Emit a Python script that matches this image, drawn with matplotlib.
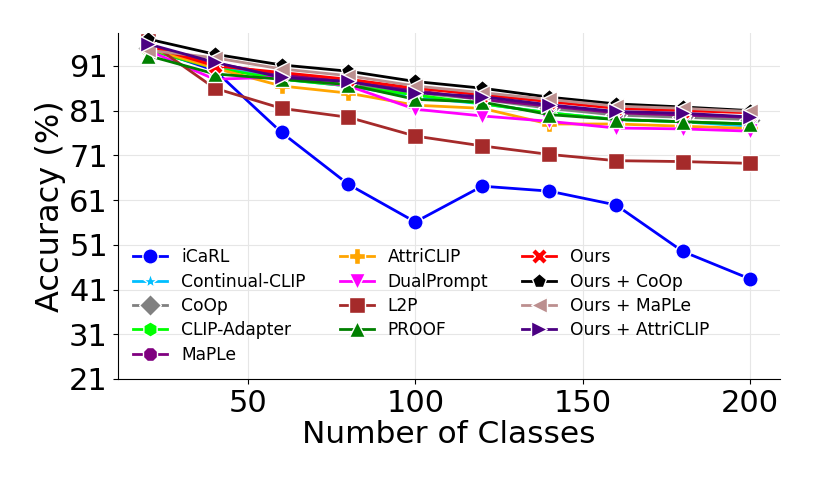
import matplotlib
matplotlib.use("Agg")
import matplotlib.pyplot as plt

classes = [20, 40, 60, 80, 100, 120, 140, 160, 180, 200]

icarl = [95.0, 90.0, 76.1, 64.5, 56.1, 64.1, 63.0, 59.9, 49.5, 43.4]
continual_clip = [95.5, 91.0, 88.0, 86.5, 84.0, 82.5, 80.5, 79.0, 78.5, 77.5]
coop = [95.0, 91.5, 88.5, 87.0, 85.0, 83.5, 81.5, 80.0, 79.5, 79.0]
clip_adapter = [94.5, 90.5, 88.0, 86.5, 84.5, 82.5, 80.5, 79.0, 78.5, 78.0]
maple = [95.5, 91.5, 89.0, 87.5, 85.5, 83.5, 82.0, 80.5, 80.0, 79.5]
attriclip = [95.0, 90.5, 86.5, 84.9, 82.2, 81.5, 78.0, 78.0, 77.5, 77.0]
dualprompt = [94.5, 88.0, 88.5, 86.5, 81.3, 79.8, 78.6, 77.1, 76.9, 76.4]
l2p = [96.5, 86.0, 81.5, 79.5, 75.3, 73.1, 71.2, 69.8, 69.6, 69.2]
proof = [93.3, 89.2, 88.0, 86.8, 83.5, 82.9, 80.1, 79.0, 78.5, 78.0]
ours = [95.5, 91.0, 89.5, 88.0, 86.0, 84.5, 83.0, 81.5, 81.0, 80.5]
ours_coop = [97.0, 93.6, 91.2, 89.8, 87.5, 86.0, 84.0, 82.5, 81.8, 81.0]
ours_maple = [94.5, 92.8, 90.3, 88.8, 86.5, 85.0, 83.5, 82.0, 81.5, 80.8]
ours_attriclip = [95.9, 91.8, 88.4, 87.5, 85.0, 84.1, 82.3, 80.8, 80.4, 79.6]

series = [
    ("iCaRL", icarl, "blue", "o"),
    ("Continual-CLIP", continual_clip, "deepskyblue", "*"),
    ("CoOp", coop, "grey", "D"),
    ("CLIP-Adapter", clip_adapter, "lime", "h"),
    ("MaPLe", maple, "purple", "8"),
    ("AttriCLIP", attriclip, "orange", "P"),
    ("DualPrompt", dualprompt, "magenta", "v"),
    ("L2P", l2p, "brown", "s"),
    ("PROOF", proof, "green", "^"),
    ("Ours", ours, "red", "X"),
    ("Ours + CoOp", ours_coop, "black", "p"),
    ("Ours + MaPLe", ours_maple, "rosybrown", "<"),
    ("Ours + AttriCLIP", ours_attriclip, "indigo", ">"),
]

fig = plt.figure(figsize=(8.14, 4.88), dpi=100)
ax = fig.add_axes([0.1446, 0.2234, 0.8134, 0.7086])

for name, vals, color, marker in series:
    ax.plot(classes, vals, color=color, marker=marker, markersize=11,
            linewidth=2, markeredgecolor="white", markeredgewidth=1.0,
            label=name)

ax.set_ylim(21, 98.3)
ax.set_yticks([21, 31, 41, 51, 61, 71, 81, 91])
ax.set_xticks([50, 100, 150, 200])
ax.tick_params(labelsize=22)
ax.grid(True, color="#e6e6e6", linewidth=0.8)
ax.set_axisbelow(True)
ax.spines["top"].set_visible(False)
ax.spines["right"].set_visible(False)
ax.set_xlabel("Number of Classes", fontsize=22.5, labelpad=2)
ax.set_ylabel("Accuracy (%)", fontsize=23, labelpad=2)

ax.legend(ncol=3, loc="lower left", frameon=False, fontsize=12.3,
          labelspacing=0.37)

fig.savefig("out.png", dpi=100)
